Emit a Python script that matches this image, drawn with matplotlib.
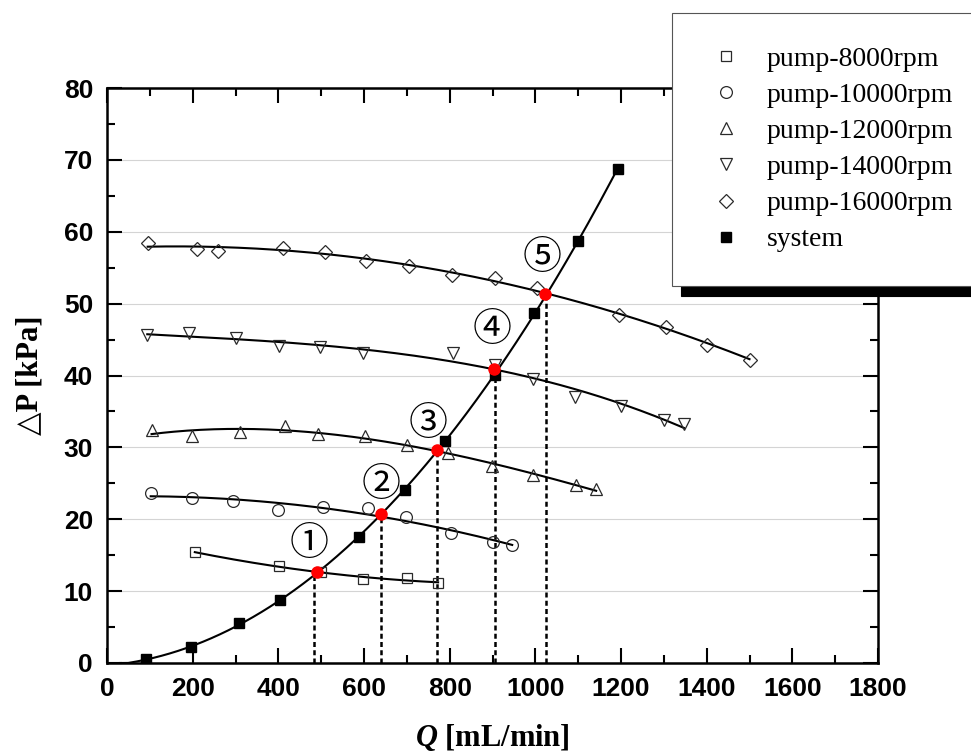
import numpy as np
import matplotlib
matplotlib.use('Agg')
import matplotlib.pyplot as plt
from matplotlib.ticker import MultipleLocator

# values #######################################################################
q_8000 = [205, 401, 499, 598, 701, 773]
p_8000 = [15.4, 13.5, 12.6, 11.7, 11.8, 11.1]

q_10000 = [102, 198, 293, 399, 504, 609, 699, 802, 901, 946]
p_10000 = [23.7, 22.9, 22.5, 21.3, 21.7, 21.5, 20.3, 18.1, 16.9, 16.4]

q_12000 = [104, 198, 310, 415, 492, 603, 700, 797, 899, 994, 1094, 1142]
p_12000 = [32.4, 31.6, 32.2, 33.0, 31.8, 31.6, 30.4, 29.2, 27.4, 26.2, 24.7, 24.2]

q_14000 = [94, 191, 302, 401, 498, 598, 807, 905, 994, 1093, 1200, 1300, 1347]
p_14000 = [45.6, 45.9, 45.2, 44.1, 43.9, 43.2, 43.2, 41.5, 39.5, 37.0, 35.8, 33.8, 33.2]

q_16000 = [95, 210, 260, 410, 510, 605, 705, 805, 905, 1005, 1195, 1305, 1400, 1500]
p_16000 = [58.5, 57.6, 57.3, 57.7, 57.2, 55.9, 55.2, 54.0, 53.5, 52.2, 48.4, 46.8, 44.3, 42.2]

q_system = [92, 197, 308, 403, 588, 695, 790, 905, 998, 1099, 1193]
p_system = [0.5, 2.2, 5.5, 8.7, 17.6, 24.1, 30.9, 40.1, 48.7, 58.7, 68.8]

# operating points and their marks
q_op = [491, 639, 770, 904, 1023]
p_op = [12.7, 20.7, 29.7, 40.9, 51.4]
q_drop = [483, 640, 770, 907, 1026]
op_labels = ['①', '②', '③', '④', '⑤']
q_lab = [471, 639, 749, 899, 1015]
p_lab = [16.5, 24.8, 33.3, 46.3, 56.3]

legend_labels = ['pump-8000rpm', 'pump-10000rpm', 'pump-12000rpm',
                 'pump-14000rpm', 'pump-16000rpm', 'system']
################################################################################

plt.rcParams['mathtext.fontset'] = 'custom'
plt.rcParams['mathtext.rm'] = 'Liberation Serif'
plt.rcParams['mathtext.bf'] = 'Liberation Serif:bold'
plt.rcParams['mathtext.it'] = 'Liberation Serif:italic'
plt.rcParams['mathtext.bfit'] = 'Liberation Serif:italic:bold'

fig = plt.figure(figsize=(9.71, 7.54), dpi=100)
ax = fig.add_axes([107/971, 1-663/754, (878-107)/971, (663-88)/754])

pumps = [(q_8000, p_8000, 's', 7.5, 2),
         (q_10000, p_10000, 'o', 8.5, 2),
         (q_12000, p_12000, '^', 9, 3),
         (q_14000, p_14000, 'v', 9, 3),
         (q_16000, p_16000, 'D', 7.5, 2)]

handles = []
for (q, p, m, ms, deg), lab in zip(pumps, legend_labels):
    q = np.array(q)
    p = np.array(p)
    fit = np.poly1d(np.polyfit(q, p, deg))
    qq = np.linspace(q.min(), q.max(), 200)
    ax.plot(qq, fit(qq), color='black', lw=1.5, zorder=3)
    h, = ax.plot(q, p, ls='none', marker=m, ms=ms, mfc='none',
                 mec='#2a2a2a', mew=0.9, zorder=4, label=lab)
    handles.append(h)

qs = np.array(q_system)
ps = np.array(p_system)
sys_fit = np.poly1d(np.polyfit(qs, ps, 3))
qq = np.linspace(30, qs.max(), 300)
ax.plot(qq, np.clip(sys_fit(qq), 0, None), color='black', lw=1.5, zorder=3)
h, = ax.plot(qs, ps, ls='none', marker='s', ms=7.5, mfc='black',
             mec='black', zorder=4, label=legend_labels[-1])
handles.append(h)

ax.vlines(q_drop, 0, p_op, colors='black', linestyles=(0, (2, 1.3)),
          lw=1.8, zorder=2)
ax.plot(q_op, p_op, ls='none', marker='o', ms=8, mfc='red',
        mec='red', zorder=6)

for lab, x, y in zip(op_labels, q_lab, p_lab):
    ax.text(x, y, lab, ha='center', va='center', fontsize=28,
            family=['Noto Sans CJK SC', 'DejaVu Sans'], zorder=5)

ax.set_xlim(0, 1800)
ax.set_ylim(0, 80)
ax.xaxis.set_major_locator(MultipleLocator(200))
ax.xaxis.set_minor_locator(MultipleLocator(100))
ax.yaxis.set_major_locator(MultipleLocator(10))
ax.yaxis.set_minor_locator(MultipleLocator(5))
ax.tick_params(which='both', direction='in', top=True, right=True, width=1.5)
ax.tick_params(which='major', length=10.5, pad=10)
ax.tick_params(which='minor', length=6)
for s in ax.spines.values():
    s.set_linewidth(1.8)
for t in ax.get_xticklabels() + ax.get_yticklabels():
    t.set_fontfamily('Liberation Sans')
    t.set_fontweight('bold')
    t.set_fontsize(19)

ax.grid(axis='y', which='major', color='#d4d4d4', lw=0.8)
ax.set_axisbelow(True)

ax.set_xlabel(r'$\mathbfit{Q}$ [mL/min]', fontsize=22, fontweight='bold',
              family='Liberation Serif', labelpad=15)
ax.set_ylabel('△P [kPa]', fontsize=22, fontweight='bold',
              family=['Liberation Serif', 'DejaVu Sans'], labelpad=14)

leg = fig.legend(handles=handles, loc='upper left',
                 bbox_to_anchor=(672/971, 1-13/754), bbox_transform=fig.transFigure,
                 borderaxespad=0, prop={'family': 'Liberation Serif', 'size': 20},
                 fancybox=False, framealpha=1, edgecolor='#555555',
                 markerscale=1.0, handlelength=1.5, handletextpad=0.7,
                 borderpad=1.2, labelspacing=0.385,
                 shadow={'color': 'black', 'alpha': 1, 'ox': 6.5, 'oy': -7})
leg.get_frame().set_linewidth(0.8)
leg.set_zorder(10)

plt.savefig('out.png', dpi=100)
